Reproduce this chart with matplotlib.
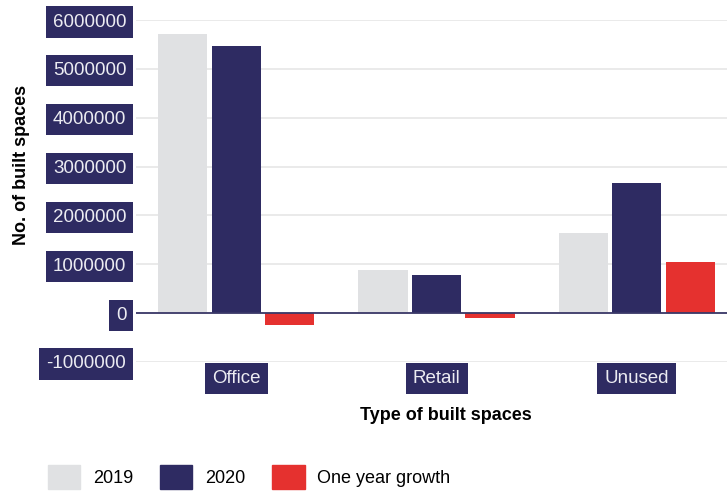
import numpy as np
import matplotlib
matplotlib.use("Agg")
import matplotlib.pyplot as plt
from matplotlib.patches import Patch

plt.rcParams["font.family"] = ["Liberation Sans", "DejaVu Sans"]

categories = ["Office", "Retail", "Unused"]
y2019 = [5710000, 890000, 1640000]
y2020 = [5470000, 790000, 2670000]
growth = [-240000, -100000, 1050000]
yticks = [-1000000, 0, 1000000, 2000000, 3000000, 4000000, 5000000, 6000000]

c2019 = "#e0e1e3"
c2020 = "#2e2b62"
cgrowth = "#e5312f"

fig = plt.figure(figsize=(7.27, 4.91), dpi=100)
ax = fig.add_axes([136 / 727, 1 - 362 / 491, (727 - 136) / 727, (362 - 20) / 491])

x = np.arange(len(categories))
w = 0.245
off = 0.267
ax.bar(x - off, y2019, w, color=c2019, zorder=2)
ax.bar(x, y2020, w, color=c2020, zorder=2)
ax.bar(x + off, growth, w, color=cgrowth, zorder=2)

ax.set_xlim(-0.5, 2.45)
ax.set_ylim(-1000000, 6000000)
ax.set_yticks(yticks)
ax.set_yticklabels([str(v) for v in yticks])
ax.set_xticks(x)
ax.set_xticklabels(categories)
ax.grid(axis="y", color="#e6e6e6", linewidth=1.2, zorder=0)
ax.axhline(0, color="#3a3868", linewidth=1.3, zorder=3)
for s in ax.spines.values():
    s.set_visible(False)
ax.tick_params(axis="y", length=0, pad=7, labelsize=13.5, labelcolor="#ececf2")
ax.tick_params(axis="x", length=0, pad=6, labelsize=13.5, labelcolor="#ececf2")
box = dict(boxstyle="square,pad=0.38", facecolor=c2020, edgecolor="none")
for t in ax.get_yticklabels() + ax.get_xticklabels():
    t.set_bbox(box)

fig.text(446 / 727, 1 - 416 / 491, "Type of built spaces", ha="center", va="center",
         fontsize=13, fontweight="bold")
fig.text(22 / 727, 1 - 165 / 491, "No. of built spaces", ha="center", va="center",
         rotation=90, fontsize=13, fontweight="bold")

handles = [Patch(color=c2019), Patch(color=c2020), Patch(color=cgrowth)]
fig.legend(handles, ["2019", "2020", "One year growth"], ncol=3, frameon=False,
           loc="center left", bbox_to_anchor=(41 / 727, 1 - 477 / 491),
           fontsize=13, handlelength=1.78, handleheight=1.6, handletextpad=0.7,
           columnspacing=1.5, borderaxespad=0)

fig.savefig("out.png", dpi=100)
